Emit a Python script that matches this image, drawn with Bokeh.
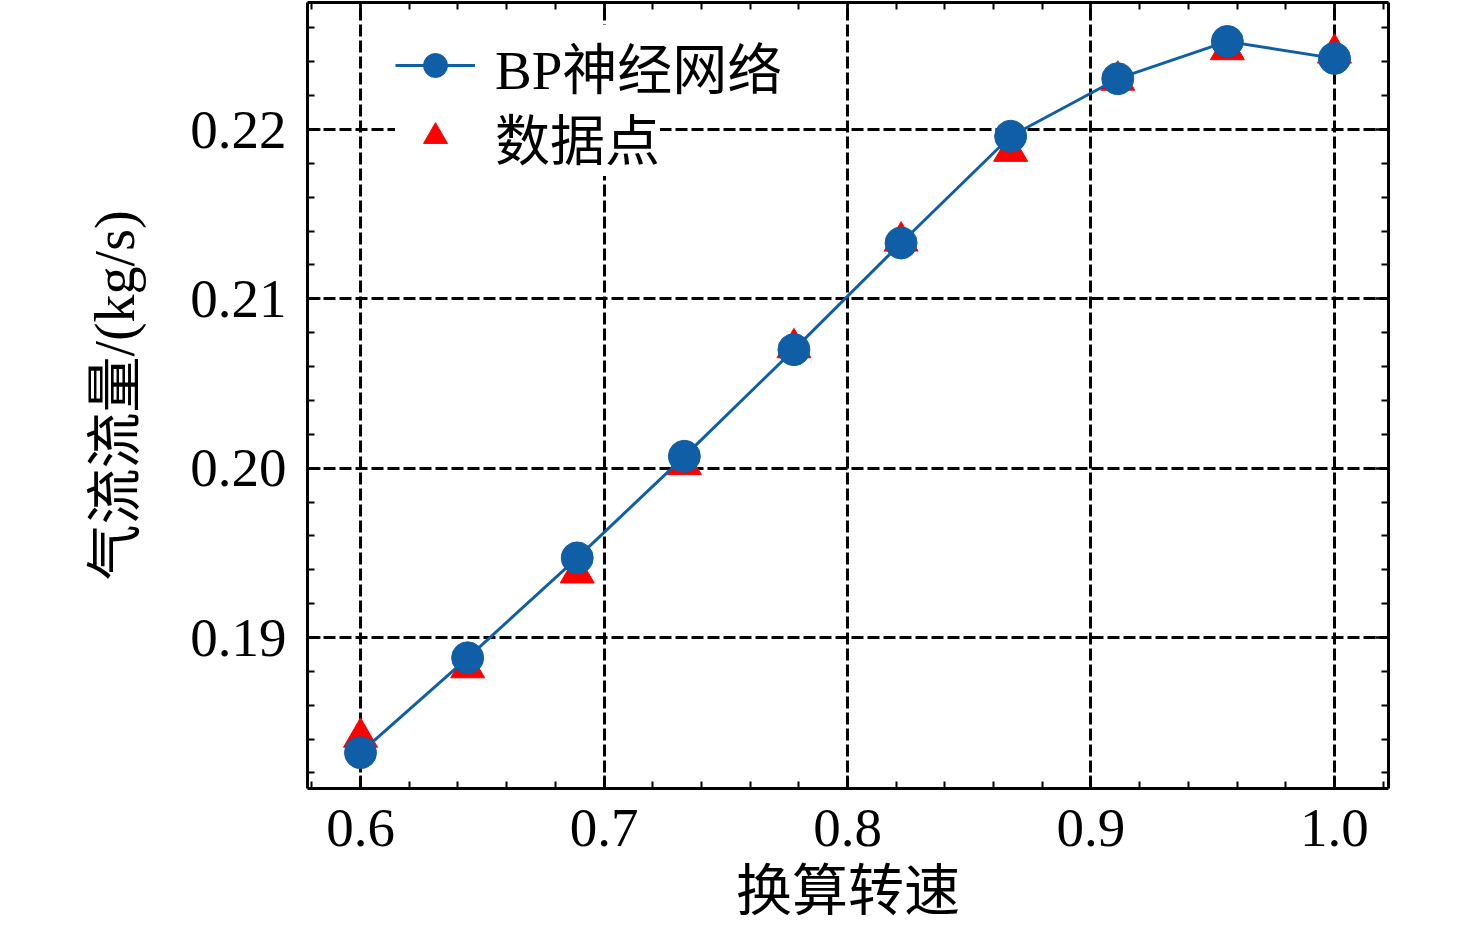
import numpy as np
from bokeh.plotting import figure
from bokeh.models import (Range1d, FixedTicker, LinearAxis, Legend, LegendItem,
                          PrintfTickFormatter, Title)
from bokeh.embed import file_html
from bokeh.resources import INLINE

# ---- data ----
speed = [0.6, 0.644, 0.689, 0.733, 0.778, 0.822, 0.867, 0.911, 0.956, 1.0]
bp_flow = [0.1832, 0.1888, 0.1947, 0.2007, 0.2070, 0.2133, 0.2196, 0.2230, 0.2252, 0.2242]
data_flow = [0.1841, 0.1882, 0.1938, 0.2002, 0.2071, 0.2134, 0.2187, 0.2229, 0.2247, 0.2245]
x_ticks = [0.6, 0.7, 0.8, 0.9, 1.0]
y_ticks = [0.19, 0.20, 0.21, 0.22]
x_label = "换算转速"
y_label = "气流流量/(kg/s)"
series_names = ["BP神经网络", "数据点"]

FONT = "'Liberation Serif', 'Times New Roman', 'Noto Sans CJK SC', serif"
BLUE = "#105ea6"
RED = "#ff0000"

x_minor = [round(v, 3) for v in np.arange(0.56, 1.04, 0.02)]
y_minor = [round(v, 4) for v in np.arange(0.180, 0.2281, 0.002)]

p = figure(width=1468, height=933,
           x_range=Range1d(0.57823, 1.02218), y_range=Range1d(0.181083, 0.2275),
           output_backend="svg", toolbar_location=None,
           min_border_left=307, min_border_right=80, min_border_top=2, min_border_bottom=145)
p.outline_line_color = None
p.background_fill_color = "white"
p.border_fill_color = "white"

xt = FixedTicker(ticks=x_ticks, minor_ticks=x_minor)
yt = FixedTicker(ticks=y_ticks, minor_ticks=y_minor)


def style_axis(ax):
    ax.axis_line_width = 3
    ax.axis_line_color = "black"
    ax.major_tick_in = 13
    ax.major_tick_out = 0
    ax.minor_tick_in = 7
    ax.minor_tick_out = 0
    ax.major_tick_line_width = 2.5
    ax.minor_tick_line_width = 2
    ax.major_tick_line_color = "black"
    ax.minor_tick_line_color = "black"
    ax.major_label_text_font = FONT
    ax.major_label_text_font_size = "55px"
    ax.major_label_text_color = "black"
    ax.axis_label_text_font = FONT
    ax.axis_label_text_font_size = "56px"
    ax.axis_label_text_font_style = "normal"
    ax.axis_label_text_color = "black"


xa = p.xaxis[0]
xa.ticker = xt
xa.formatter = PrintfTickFormatter(format="%.1f")
style_axis(xa)
xa.major_label_standoff = 21

ya = p.yaxis[0]
ya.ticker = yt
ya.formatter = PrintfTickFormatter(format="%.2f")
style_axis(ya)
ya.major_label_standoff = 21
ya.axis_label = y_label
ya.axis_label_standoff = 41

top = LinearAxis(ticker=xt)
style_axis(top)
top.major_label_text_font_size = "1px"
top.major_label_text_color = None
top.major_label_standoff = 0
p.add_layout(top, "above")

right = LinearAxis(ticker=yt)
style_axis(right)
right.major_label_text_font_size = "1px"
right.major_label_text_color = None
right.major_label_standoff = 0
p.add_layout(right, "right")

for g, t in ((p.xgrid[0], xt), (p.ygrid[0], yt)):
    g.ticker = t
    g.grid_line_color = "black"
    g.grid_line_width = 3
    g.grid_line_dash = "12 4"
    g.grid_line_alpha = 1.0

tri_r = p.scatter(speed, data_flow, marker="triangle", size=34,
                  fill_color=RED, line_color=RED, line_width=1)
line_r = p.line(speed, bp_flow, line_color=BLUE, line_width=3)
circ_r = p.scatter(speed, bp_flow, marker="circle", size=32,
                   fill_color=BLUE, line_color=BLUE, line_width=1)

# x-axis title, stacked below the tick labels
xtitle = Title(text=x_label, align="center", vertical_align="bottom",
               text_font=FONT, text_font_size="56px", text_font_style="normal",
               text_color="black", standoff=19, offset=0)
p.add_layout(xtitle, "below")


def make_legend(label, renderers, loc):
    lg = Legend(items=[LegendItem(label=label, renderers=renderers)], location=loc)
    lg.label_text_font = FONT
    lg.label_text_font_size = "55px"
    lg.label_text_color = "black"
    lg.glyph_width = 80
    lg.glyph_height = 60
    lg.label_height = 60
    lg.label_standoff = 20
    lg.spacing = 0
    lg.padding = 5
    lg.margin = 0
    lg.border_line_color = None
    lg.background_fill_color = "white"
    lg.background_fill_alpha = 1.0
    return lg


p.add_layout(make_legend(series_names[0], [line_r, circ_r], (88, 683)))
p.add_layout(make_legend(series_names[1], [tri_r], (88, 612)))

open("out.html", "w").write(file_html(p, INLINE))
